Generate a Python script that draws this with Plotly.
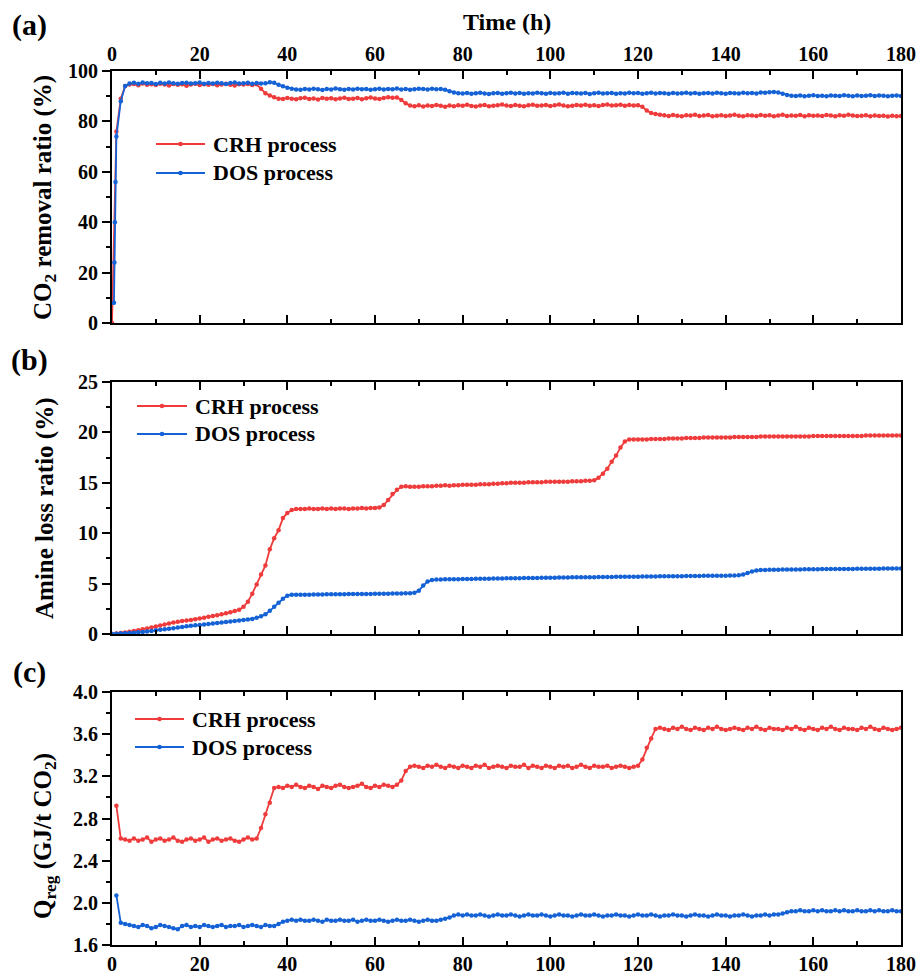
import plotly.graph_objects as go

W, H = 921, 975
RED = "#EF3B3B"
BLUE = "#1462D6"
FONT = "Liberation Serif"

# ---------------- (a) CO2 removal ratio (%) ----------------
co2_crh_t = list(range(0, 181))
co2_crh = [
    0, 76, 89, 94,
    94.6, 94.8, 94.3, 95.0, 94.5, 94.7, 94.4, 94.9, 94.6, 94.2,
    94.8, 94.5, 94.7, 94.1, 94.6, 94.9, 94.4, 94.7, 94.5, 94.8,
    94.3, 94.6, 94.9, 94.5, 94.2, 94.7, 94.6, 94.8, 94.4, 94.7,
    93.0, 91.2, 90.3, 89.6, 89.0,
    88.9, 89.3, 89.0, 88.8, 89.2, 89.4, 88.9, 89.1, 88.7, 89.3,
    89.0, 89.2, 88.8, 89.1, 89.4, 88.9, 89.0, 89.3, 88.8, 89.2,
    89.5, 89.1, 88.9, 89.3, 89.6, 89.4,
    89.5, 88.5, 87.2, 86.3,
    86.0, 86.4, 85.9, 86.3, 86.1, 86.5, 86.2, 85.8, 86.3, 86.0,
    86.4, 86.2, 86.6, 86.1, 85.9, 86.3, 86.5, 86.0, 86.2, 86.4,
    86.7, 86.3, 86.1, 86.5, 86.2, 86.0, 86.4, 86.6, 86.2, 86.3,
    86.5, 86.1, 86.4, 86.7, 86.3, 86.0, 86.2, 86.5, 86.3, 86.6,
    86.2, 86.4, 86.1, 86.5, 86.7, 86.3, 86.4, 86.6, 86.2, 86.5,
    86.3, 86.4,
    85.8, 84.3, 83.3, 82.9, 82.6,
    82.4, 82.1, 82.5, 82.2, 82.0, 82.4, 82.3, 82.6, 82.1, 82.3,
    82.5, 82.0, 82.2, 82.4, 82.1, 82.3, 82.6, 82.2, 82.0, 82.4,
    82.3, 82.1, 82.5, 82.2, 82.4, 82.0, 82.3, 82.6, 82.1, 82.3,
    82.2, 82.5, 82.0, 82.4, 82.2, 82.3, 82.1, 82.5, 82.3, 82.0,
    82.4, 82.2, 82.6, 82.3, 82.1, 82.2, 82.4, 82.0, 82.3, 82.1,
    82.2, 81.9, 82.2, 82.0, 82.1,
]
co2_dos_t = [0.45, 0.55, 0.65, 0.8, 1] + list(range(2, 181))
co2_dos = [
    8, 24, 40, 56, 74,
    88, 94,
    95.0, 95.3, 94.9, 95.4, 95.1, 95.2, 94.8, 95.3, 95.0, 95.4,
    95.1, 94.9, 95.2, 95.3, 95.0, 95.1, 95.4, 94.9, 95.2, 95.0,
    95.3, 95.1, 94.8, 95.2, 95.4, 95.0, 95.1, 95.3, 94.9, 95.2,
    95.0, 95.1, 95.5,
    95.3, 94.5, 93.9, 93.4, 93.0, 92.7,
    92.6, 92.9, 92.7, 93.0, 92.8, 92.5, 92.9, 92.7, 93.1, 92.8,
    92.6, 92.9, 92.7, 93.0, 92.8, 92.9, 92.6, 92.8, 93.0, 92.7,
    92.9, 92.8, 93.1, 92.7, 92.9, 92.6, 92.8, 93.0, 92.9, 92.7,
    93.0, 92.8, 92.9,
    92.6, 92.0, 91.5, 91.2,
    91.1, 91.3, 91.0, 91.2, 91.4, 91.1, 90.9, 91.2, 91.3, 91.0,
    91.2, 91.4, 91.1, 91.3, 91.0, 91.2, 91.1, 91.4, 91.2, 91.0,
    91.3, 91.1, 91.2, 91.4, 91.0, 91.3, 91.2, 91.1, 91.3, 90.9,
    91.2, 91.4, 91.1, 91.2, 91.3, 91.0, 91.2, 91.1, 91.4, 91.2,
    91.3, 91.0, 91.2, 91.4, 91.1, 91.3, 91.2, 91.0, 91.3, 91.1,
    91.2, 91.4, 91.1, 91.3, 91.0, 91.2, 91.3, 91.1, 91.4, 91.2,
    91.0, 91.3, 91.2, 91.1, 91.4, 91.2, 91.3, 91.1, 91.5, 91.4,
    91.6, 91.7, 91.5,
    91.0, 90.5, 90.2,
    90.1, 90.3, 90.0, 90.2, 90.4, 90.1, 90.2, 90.0, 90.3, 90.2,
    90.1, 90.4, 90.2, 90.0, 90.3, 90.1, 90.2, 90.4, 90.1, 90.3,
    90.2, 90.0, 90.2, 90.3, 90.1,
]

# ---------------- (b) Amine loss ratio (%) ----------------
loss_t = list(range(0, 181))
loss_crh = [
    0.0, 0.05, 0.1, 0.16, 0.23, 0.3, 0.38, 0.46, 0.55, 0.65, 0.75,
    0.85, 0.95, 1.05, 1.15, 1.22, 1.28, 1.33, 1.4, 1.47, 1.55,
    1.62, 1.7, 1.78, 1.86, 1.95, 2.05, 2.15, 2.27, 2.4, 2.7,
    3.2, 4.0, 4.9, 5.9, 6.8, 8.4, 9.5, 10.3, 11.5, 12.0, 12.3,
    12.4, 12.4, 12.4, 12.45, 12.4, 12.4, 12.45, 12.4, 12.45, 12.4,
    12.45, 12.45, 12.4, 12.45, 12.45, 12.5, 12.45, 12.5, 12.5, 12.55,
    12.8, 13.3, 13.9, 14.3, 14.6, 14.65,
    14.6, 14.6, 14.6, 14.65, 14.65, 14.65, 14.7, 14.7, 14.75, 14.7,
    14.75, 14.75, 14.8, 14.8, 14.8, 14.8, 14.85, 14.85, 14.85, 14.9,
    14.9, 14.95, 14.95, 15.0, 15.0, 15.0, 15.0, 15.05, 15.05, 15.05,
    15.05, 15.1, 15.1, 15.1, 15.1, 15.1, 15.1, 15.15, 15.15, 15.15,
    15.2, 15.2, 15.25,
    15.5, 15.9, 16.4, 17.1, 17.7, 18.5, 19.1, 19.3,
    19.3, 19.3, 19.3, 19.3, 19.35, 19.35, 19.35, 19.35, 19.4, 19.4,
    19.4, 19.4, 19.45, 19.45, 19.45, 19.45, 19.5, 19.5, 19.5, 19.5,
    19.5, 19.5, 19.5, 19.55, 19.55, 19.55, 19.55, 19.55, 19.55, 19.6,
    19.6, 19.6, 19.6, 19.6, 19.6, 19.6, 19.6, 19.6, 19.6, 19.6,
    19.6, 19.65, 19.65, 19.65, 19.65, 19.65, 19.65, 19.65, 19.65, 19.65,
    19.65, 19.65, 19.65, 19.7, 19.7, 19.7, 19.7, 19.7, 19.7, 19.7,
    19.7, 19.7,
]
loss_dos = [
    0.0, 0.02, 0.04, 0.07, 0.1, 0.13, 0.17, 0.21, 0.26, 0.31, 0.36,
    0.41, 0.46, 0.52, 0.58, 0.65, 0.7, 0.76, 0.81, 0.86, 0.9,
    0.95, 1.0, 1.05, 1.1, 1.15, 1.2, 1.25, 1.3, 1.35, 1.4, 1.45, 1.5, 1.6,
    1.75, 1.95, 2.3, 2.7, 3.1, 3.5, 3.8, 3.9,
    3.9, 3.9, 3.9, 3.9, 3.92, 3.92, 3.92, 3.94, 3.94, 3.94,
    3.95, 3.95, 3.96, 3.96, 3.97, 3.97, 3.98, 3.98, 3.99, 3.99,
    4.0, 4.0, 4.01, 4.02, 4.03, 4.04, 4.05, 4.08,
    4.3, 4.8, 5.2, 5.35, 5.4,
    5.4, 5.42, 5.42, 5.43, 5.44, 5.45, 5.45, 5.46, 5.47, 5.48,
    5.48, 5.49, 5.5, 5.5, 5.51, 5.52, 5.52, 5.53, 5.54, 5.55,
    5.55, 5.56, 5.56, 5.57, 5.58, 5.58, 5.59, 5.6, 5.6, 5.61,
    5.62, 5.62, 5.63, 5.63, 5.64, 5.64, 5.65, 5.65, 5.66, 5.66,
    5.67, 5.67, 5.68, 5.68, 5.69, 5.69, 5.7, 5.7, 5.71, 5.71,
    5.72, 5.72, 5.73, 5.73, 5.74, 5.74, 5.75, 5.75, 5.76, 5.76,
    5.77, 5.77, 5.78, 5.78, 5.79, 5.79, 5.8, 5.8, 5.82,
    5.9, 6.05, 6.2, 6.3, 6.35,
    6.36, 6.37, 6.38, 6.38, 6.39, 6.4, 6.4, 6.41, 6.41, 6.42,
    6.42, 6.43, 6.43, 6.44, 6.44, 6.45, 6.45, 6.45, 6.46, 6.46,
    6.46, 6.47, 6.47, 6.47, 6.48, 6.48, 6.48, 6.49, 6.49, 6.5,
    6.5, 6.5,
]

# ---------------- (c) Regeneration heat Q_reg (GJ/t CO2) ----------------
qreg_t = list(range(1, 181))
qreg_crh = [
    2.92, 2.61,
    2.60, 2.59, 2.61, 2.59, 2.60, 2.62, 2.58, 2.60, 2.61, 2.59,
    2.60, 2.62, 2.59, 2.58, 2.60, 2.61, 2.59, 2.60, 2.62, 2.58,
    2.60, 2.61, 2.59, 2.60, 2.61, 2.59, 2.58, 2.60, 2.62, 2.60, 2.61,
    2.71, 2.84, 2.95, 3.09,
    3.10, 3.09, 3.11, 3.10, 3.12, 3.10, 3.09, 3.11, 3.10, 3.08,
    3.11, 3.10, 3.09, 3.11, 3.12, 3.10, 3.09, 3.10, 3.11, 3.13,
    3.10, 3.09, 3.11, 3.10, 3.12, 3.11, 3.10, 3.12,
    3.16, 3.25, 3.29,
    3.30, 3.29, 3.28, 3.30, 3.29, 3.31, 3.29, 3.28, 3.30, 3.29,
    3.28, 3.30, 3.29, 3.28, 3.30, 3.29, 3.31, 3.28, 3.29, 3.30,
    3.29, 3.28, 3.30, 3.29, 3.29, 3.31, 3.28, 3.30, 3.29, 3.28,
    3.30, 3.29, 3.28, 3.30, 3.29, 3.30, 3.28, 3.29, 3.31, 3.29,
    3.28, 3.30, 3.29, 3.29, 3.30, 3.28, 3.29, 3.30, 3.29, 3.28,
    3.29, 3.30,
    3.36, 3.47, 3.56, 3.65,
    3.66, 3.65, 3.64, 3.66, 3.65, 3.67, 3.65, 3.64, 3.66, 3.65,
    3.64, 3.66, 3.65, 3.67, 3.65, 3.64, 3.65, 3.66, 3.65, 3.64,
    3.66, 3.65, 3.67, 3.65, 3.64, 3.66, 3.65, 3.65, 3.64, 3.66,
    3.65, 3.67, 3.65, 3.64, 3.66, 3.65, 3.64, 3.66, 3.65, 3.67,
    3.65, 3.64, 3.66, 3.65, 3.65, 3.64, 3.66, 3.65, 3.67, 3.65,
    3.64, 3.66, 3.65, 3.64, 3.65, 3.66,
]
qreg_dos = [
    2.07, 1.81,
    1.80, 1.79, 1.78, 1.77, 1.79, 1.78, 1.76, 1.77, 1.79, 1.78,
    1.77, 1.76, 1.75, 1.78, 1.79, 1.77, 1.78, 1.77, 1.79, 1.78,
    1.77, 1.78, 1.79, 1.77, 1.78, 1.78, 1.79, 1.77, 1.78, 1.79,
    1.78, 1.77, 1.79, 1.78, 1.78,
    1.80, 1.82, 1.83,
    1.84, 1.83, 1.84, 1.83, 1.83, 1.84, 1.83, 1.82, 1.84, 1.83,
    1.83, 1.84, 1.83, 1.83, 1.84, 1.82, 1.83, 1.84, 1.83, 1.83,
    1.84, 1.83, 1.82, 1.83, 1.84, 1.83, 1.83, 1.84, 1.83, 1.82,
    1.83, 1.84, 1.83, 1.83, 1.84, 1.85,
    1.86, 1.88, 1.89,
    1.88, 1.89, 1.88, 1.88, 1.89, 1.88, 1.87, 1.88, 1.89, 1.88,
    1.88, 1.89, 1.88, 1.87, 1.88, 1.89, 1.88, 1.88, 1.89, 1.88,
    1.87, 1.88, 1.89, 1.88, 1.88, 1.87, 1.88, 1.89, 1.88, 1.88,
    1.89, 1.88, 1.87, 1.88, 1.88, 1.89, 1.88, 1.88, 1.87, 1.88,
    1.89, 1.88, 1.88, 1.89, 1.88, 1.87, 1.88, 1.88, 1.89, 1.88,
    1.88, 1.87, 1.88, 1.89, 1.88, 1.88, 1.87, 1.88, 1.89, 1.88,
    1.88, 1.87, 1.88, 1.88, 1.89, 1.88, 1.87, 1.88, 1.88, 1.89,
    1.88, 1.89, 1.89, 1.90,
    1.91, 1.92,
    1.92, 1.93, 1.92, 1.92, 1.93, 1.92, 1.93, 1.92, 1.92, 1.93,
    1.92, 1.93, 1.92, 1.92, 1.93, 1.92, 1.92, 1.93, 1.92, 1.93,
    1.92, 1.92, 1.93, 1.92, 1.92,
]

for t, v in [(co2_crh_t, co2_crh), (co2_dos_t, co2_dos), (loss_t, loss_crh),
             (loss_t, loss_dos), (qreg_t, qreg_crh), (qreg_t, qreg_dos)]:
    assert len(t) == len(v), (len(t), len(v))

x_ticks = [0, 20, 40, 60, 80, 100, 120, 140, 160, 180]
series_names = ["CRH process", "DOS process"]
panel_labels = ["(a)", "(b)", "(c)"]


def px_x(p):
    return p / W


def px_y(p):
    return 1 - p / H


# plot-area pixel boxes: shared left/right, (top, bottom) per panel
X0, X1 = 112, 901
boxes = [(71, 323), (382, 634), (692, 945)]

fig = go.Figure()
panels = [
    (co2_crh_t, co2_crh, co2_dos_t, co2_dos),
    (loss_t, loss_crh, loss_t, loss_dos),
    (qreg_t, qreg_crh, qreg_t, qreg_dos),
]
for i, (tc, vc, td, vd) in enumerate(panels):
    ax = "" if i == 0 else str(i + 1)
    for tt, vv, col, nm in [(tc, vc, RED, series_names[0]), (td, vd, BLUE, series_names[1])]:
        fig.add_trace(go.Scatter(
            x=tt, y=vv, name=nm, mode="lines+markers",
            line=dict(color=col, width=1.8),
            marker=dict(color=col, size=4.5, line=dict(width=0)),
            xaxis="x" + ax, yaxis="y" + ax, showlegend=False,
        ))

tickfont = dict(family=FONT, size=20, color="black", weight="bold")
common_x = dict(
    range=[0, 180], tickvals=x_ticks, ticks="inside", ticklen=8, tickwidth=2,
    tickcolor="black", showline=True, linecolor="black", linewidth=2,
    mirror="allticks", showgrid=False, zeroline=False, tickfont=tickfont,
    automargin=False,
    minor=dict(dtick=10, tick0=0, ticks="inside", ticklen=4, tickwidth=2,
               tickcolor="black", showgrid=False),
    domain=[px_x(X0), px_x(X1)],
)
common_y = dict(
    ticks="outside", ticklen=8, tickwidth=2, tickcolor="black",
    showline=True, linecolor="black", linewidth=2, mirror=True,
    showgrid=False, zeroline=False, tickfont=tickfont, automargin=False,
)

minor_y = dict(ticks="outside", ticklen=4, tickwidth=2, tickcolor="black")
y_cfg = [
    dict(range=[0, 100], tickvals=[0, 20, 40, 60, 80, 100],
         minor=dict(minor_y, dtick=10, tick0=0)),
    dict(range=[0, 25], tickvals=[0, 5, 10, 15, 20, 25],
         minor=dict(minor_y, dtick=2.5, tick0=0)),
    dict(range=[1.6, 4.0], tickvals=[1.6, 2.0, 2.4, 2.8, 3.2, 3.6, 4.0],
         ticktext=["1.6", "2.0", "2.4", "2.8", "3.2", "3.6", "4.0"],
         minor=dict(minor_y, dtick=0.2, tick0=1.6)),
]

layout = dict(
    width=W, height=H, margin=dict(l=0, r=0, t=0, b=0, pad=0, autoexpand=False),
    paper_bgcolor="white", plot_bgcolor="white",
    font=dict(family=FONT, color="black"),
)
for i in range(3):
    ax = "" if i == 0 else str(i + 1)
    top, bot = boxes[i]
    xa = dict(common_x, anchor="y" + ax)
    if i == 0:
        xa.update(side="top", showticklabels=True)
    elif i == 1:
        xa.update(showticklabels=False)
    else:
        xa.update(side="bottom", showticklabels=True)
    if i > 0:
        xa["matches"] = "x"
    ya = dict(common_y, anchor="x" + ax, domain=[px_y(bot), px_y(top)], **y_cfg[i])
    layout["xaxis" + ax] = xa
    layout["yaxis" + ax] = ya

fig.update_layout(**layout)

# axis titles and panel labels
annots = [
    dict(text="<b>Time (h)</b>", x=px_x(507), y=px_y(22), font=dict(size=24)),
    dict(text="<b>CO<sub>2</sub> removal ratio (%)</b>", x=px_x(45), y=px_y(198),
         textangle=-90, font=dict(size=25)),
    dict(text="<b>Amine loss ratio (%)</b>", x=px_x(45), y=px_y(508),
         textangle=-90, font=dict(size=25)),
    dict(text="<b>Q<sub>reg</sub> (GJ/t CO<sub>2</sub>)</b>", x=px_x(44), y=px_y(836),
         textangle=-90, font=dict(size=25)),
]
label_pos = [(29, 25), (29, 360), (29, 672)]
for lab, (lx, ly) in zip(panel_labels, label_pos):
    annots.append(dict(text="<b>%s</b>" % lab, x=px_x(lx), y=px_y(ly), font=dict(size=30)))

# legend samples drawn inside each panel
legend_rows = [
    [(156, 205, 144), (156, 205, 173)],
    [(137, 187, 406), (137, 187, 434)],
    [(135, 184, 719), (135, 184, 747)],
]
shapes = []
for rows in legend_rows:
    for (lx0, lx1, ly), col, nm in zip(rows, [RED, BLUE], series_names):
        shapes.append(dict(type="line", xref="paper", yref="paper",
                           x0=px_x(lx0), x1=px_x(lx1), y0=px_y(ly), y1=px_y(ly),
                           line=dict(color=col, width=1.8)))
        cx = (lx0 + lx1) / 2
        shapes.append(dict(type="circle", xref="paper", yref="paper",
                           x0=px_x(cx - 2.3), x1=px_x(cx + 2.3), y0=px_y(ly + 2.3), y1=px_y(ly - 2.3),
                           fillcolor=col, line=dict(color=col, width=0)))
        annots.append(dict(text="<b>%s</b>" % nm, x=px_x(lx1 + 6), y=px_y(ly),
                           xanchor="left", font=dict(size=22)))

for a in annots:
    a.setdefault("xref", "paper")
    a.setdefault("yref", "paper")
    a.setdefault("showarrow", False)
    a.setdefault("xanchor", "center")
    a.setdefault("yanchor", "middle")
    a["font"] = dict(family=FONT, color="black", **a["font"])

fig.update_layout(annotations=annots, shapes=shapes)
fig.write_html("out.html")
